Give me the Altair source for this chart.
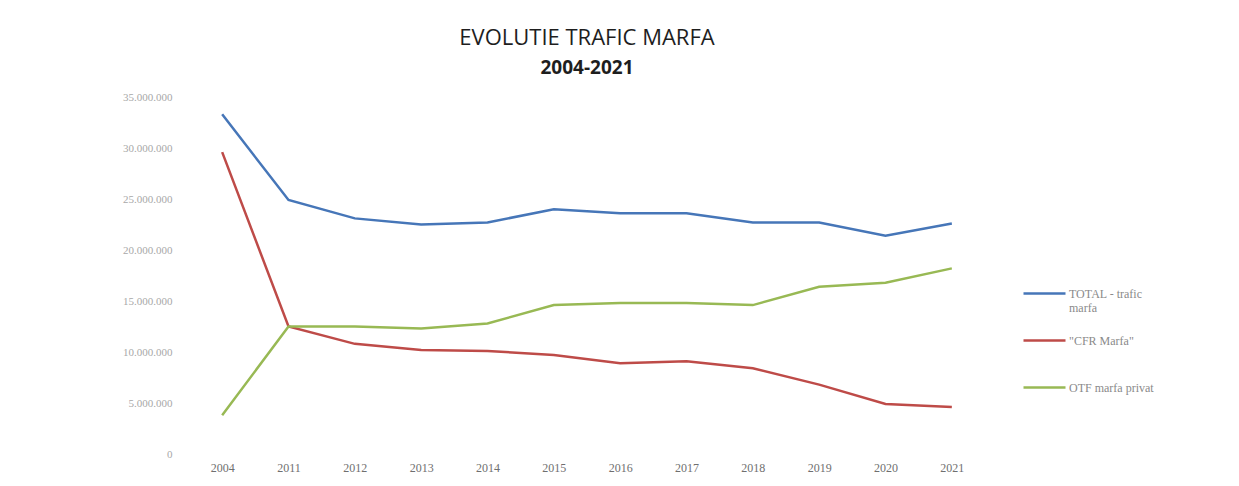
import altair as alt
import pandas as pd

years = ["2004", "2011", "2012", "2013", "2014", "2015", "2016", "2017", "2018", "2019", "2020", "2021"]
series_names = ["TOTAL - trafic marfa", "\"CFR Marfa\"", "OTF marfa privat"]
total = [33300000, 24900000, 23100000, 22500000, 22700000, 24000000, 23600000, 23600000, 22700000, 22700000, 21400000, 22600000]
cfr = [29600000, 12500000, 10800000, 10200000, 10100000, 9700000, 8900000, 9100000, 8400000, 6800000, 4900000, 4600000]
otf = [3800000, 12500000, 12500000, 12300000, 12800000, 14600000, 14800000, 14800000, 14600000, 16400000, 16800000, 18200000]
y_ticks = [0, 5000000, 10000000, 15000000, 20000000, 25000000, 30000000, 35000000]
colors = ["#4676B8", "#BE4B48", "#98B954"]

rows = []
for name, vals in zip(series_names, [total, cfr, otf]):
    for yr, v in zip(years, vals):
        rows.append({"An": yr, "Serie": name, "Valoare": v})
df = pd.DataFrame(rows)

chart = alt.Chart(df).mark_line(strokeWidth=2.5).encode(
    x=alt.X("An:N", sort=years, title=None,
            axis=alt.Axis(labelAngle=0, grid=False, domain=False, ticks=False,
                          labelPadding=8, labelFontSize=12, labelColor="#6f6f6f",
                          labelFont="Liberation Serif")),
    y=alt.Y("Valoare:Q", title=None,
            scale=alt.Scale(domain=[0, 35000000], nice=False),
            axis=alt.Axis(values=y_ticks, grid=False, domain=False, ticks=False,
                          labelPadding=17, labelFontSize=11, labelColor="#a8a8a8",
                          labelFont="Liberation Serif",
                          labelExpr="replace(format(datum.value, ','), /,/g, '.')")),
    color=alt.Color("Serie:N", sort=series_names,
                    scale=alt.Scale(domain=series_names, range=colors),
                    legend=alt.Legend(title=None, orient="none", legendX=833, legendY=174,
                                      symbolType="stroke", symbolSize=1764, symbolStrokeWidth=2.5,
                                      labelFontSize=12, labelColor="#8a8a8a", labelOffset=2,
                                      labelFont="Liberation Serif", rowPadding=4,
                                      labelExpr="datum.label == 'TOTAL - trafic marfa' ? ['TOTAL - trafic', 'marfa'] : [datum.label, ' ']")),
).properties(
    width=796,
    height=357,
    autosize="none",
    padding={"left": 181, "top": 89, "right": 240, "bottom": 30},
    title=alt.TitleParams(text="EVOLUTIE TRAFIC MARFA", subtitle="2004-2021",
                          fontSize=22, fontWeight=500, font="Open Sans", color="#1e1e1e",
                          subtitleFontSize=19, subtitleFontWeight="bold", subtitleFont="Open Sans",
                          subtitleColor="#1e1e1e", subtitlePadding=9,
                          anchor="middle", offset=12),
).configure_view(stroke=None)

chart.save("out.html", embed_options={"renderer": "svg", "actions": False})
